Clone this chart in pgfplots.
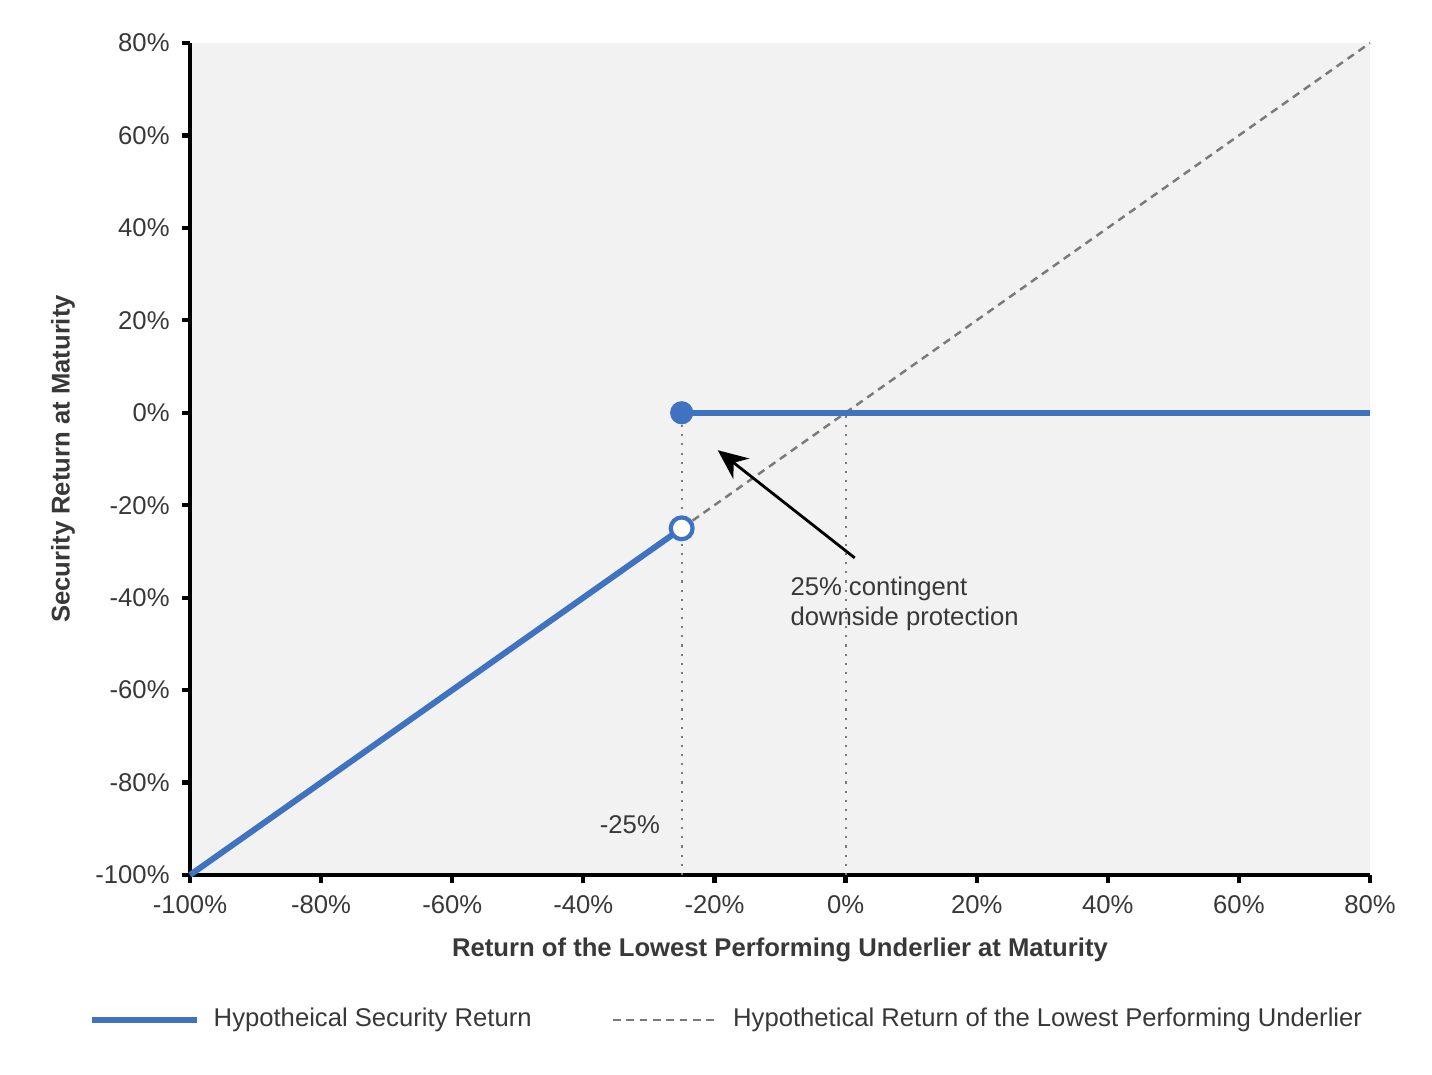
\documentclass[border=0pt]{standalone}
\usepackage{fontspec}
\setmainfont{Liberation Sans}
\usepackage{pgfplots}
\pgfplotsset{compat=1.18}
\usetikzlibrary{arrows.meta}
\definecolor{sblue}{HTML}{3F73C1}
\definecolor{txt}{HTML}{383838}
\definecolor{bggray}{HTML}{F2F2F2}
\definecolor{dgray}{HTML}{7A7A7A}
\begin{document}
\begin{tikzpicture}
\useasboundingbox (0,0) rectangle (14.32cm,10.75cm);
\begin{axis}[
  at={(1.90cm,2.00cm)}, anchor=south west,
  scale only axis, width=11.80cm, height=8.32cm,
  xmin=-100, xmax=80, ymin=-100, ymax=80,
  xtick={-100,-80,-60,-40,-20,0,20,40,60,80},
  ytick={-100,-80,-60,-40,-20,0,20,40,60,80},
  xticklabels={-100\%,-80\%,-60\%,-40\%,-20\%,0\%,20\%,40\%,60\%,80\%},
  yticklabels={-100\%,-80\%,-60\%,-40\%,-20\%,0\%,20\%,40\%,60\%,80\%},
  axis x line*=bottom, axis y line*=left,
  axis line style={black, line width=1.2pt},
  every tick/.style={black, line width=1.2pt},
  tick align=outside, major tick length=0.08cm,
  axis background/.style={fill=bggray},
  tick label style={font=\fontsize{7.3}{9}\selectfont, text=txt},
  xlabel={Return of the Lowest Performing Underlier at Maturity},
  ylabel={Security Return at Maturity},
  label style={font=\fontsize{7.3}{9}\selectfont\bfseries, text=txt},
  xlabel style={at={(axis description cs:0.5,-0.090)}, anchor=center},
  ylabel style={at={(axis description cs:-0.1076,0.5)}, anchor=center},
  clip=false,
  legend style={at={(axis description cs:-0.0864,-0.1743)}, anchor=west,
    draw=none, fill=none, inner sep=0pt, legend columns=2,
    nodes={inner sep=0pt, text=txt, font=\fontsize{7.3}{9}\selectfont},
    /tikz/every odd column/.append style={column sep=0.14cm},
    /tikz/every even column/.append style={column sep=0.8cm}},
  legend image code/.code={\draw[#1] (0cm,0cm) -- (1.05cm,0cm);},
]
% dotted guides
\addplot[dgray, dotted, line width=0.6pt, forget plot] coordinates {(-25,-100) (-25,0)};
\addplot[dgray, dotted, line width=0.6pt, forget plot] coordinates {(0,-100) (0,0)};
% security return
\addplot[sblue, line width=1.7pt] coordinates {(-100,-100) (-25,-25)};
\addlegendentry{Hypotheical Security Return}
% underlier
\addplot[dgray, line width=0.7pt, dash pattern=on 2.2pt off 1.6pt] coordinates {(-25,-25) (80,80)};
\addlegendentry{Hypothetical Return of the Lowest Performing Underlier}
\addplot[sblue, line width=1.7pt, forget plot] coordinates {(-25,0) (80,0)};
% markers
\addplot[only marks, mark=*, mark size=3.1pt, mark options={fill=white, draw=sblue, line width=1.2pt}, forget plot] coordinates {(-25,-25)};
\addplot[only marks, mark=*, mark size=3.1pt, mark options={fill=sblue, draw=sblue}, forget plot] coordinates {(-25,0)};
% annotation
\draw[-{Stealth[length=3mm,width=2.6mm]}, line width=0.8pt, black] (axis cs:1.4,-31.4) -- (axis cs:-19.5,-8.1);
\node[anchor=north west, align=left, inner sep=0pt, text=txt, font=\fontsize{7.3}{8.6}\selectfont] at (axis cs:-8.5,-35.4) {25\% contingent\\downside protection};
\node[anchor=center, inner sep=0pt, text=txt, font=\fontsize{7.3}{9}\selectfont] at (axis cs:-32.9,-89.2) {-25\%};
\end{axis}
\end{tikzpicture}
\end{document}
